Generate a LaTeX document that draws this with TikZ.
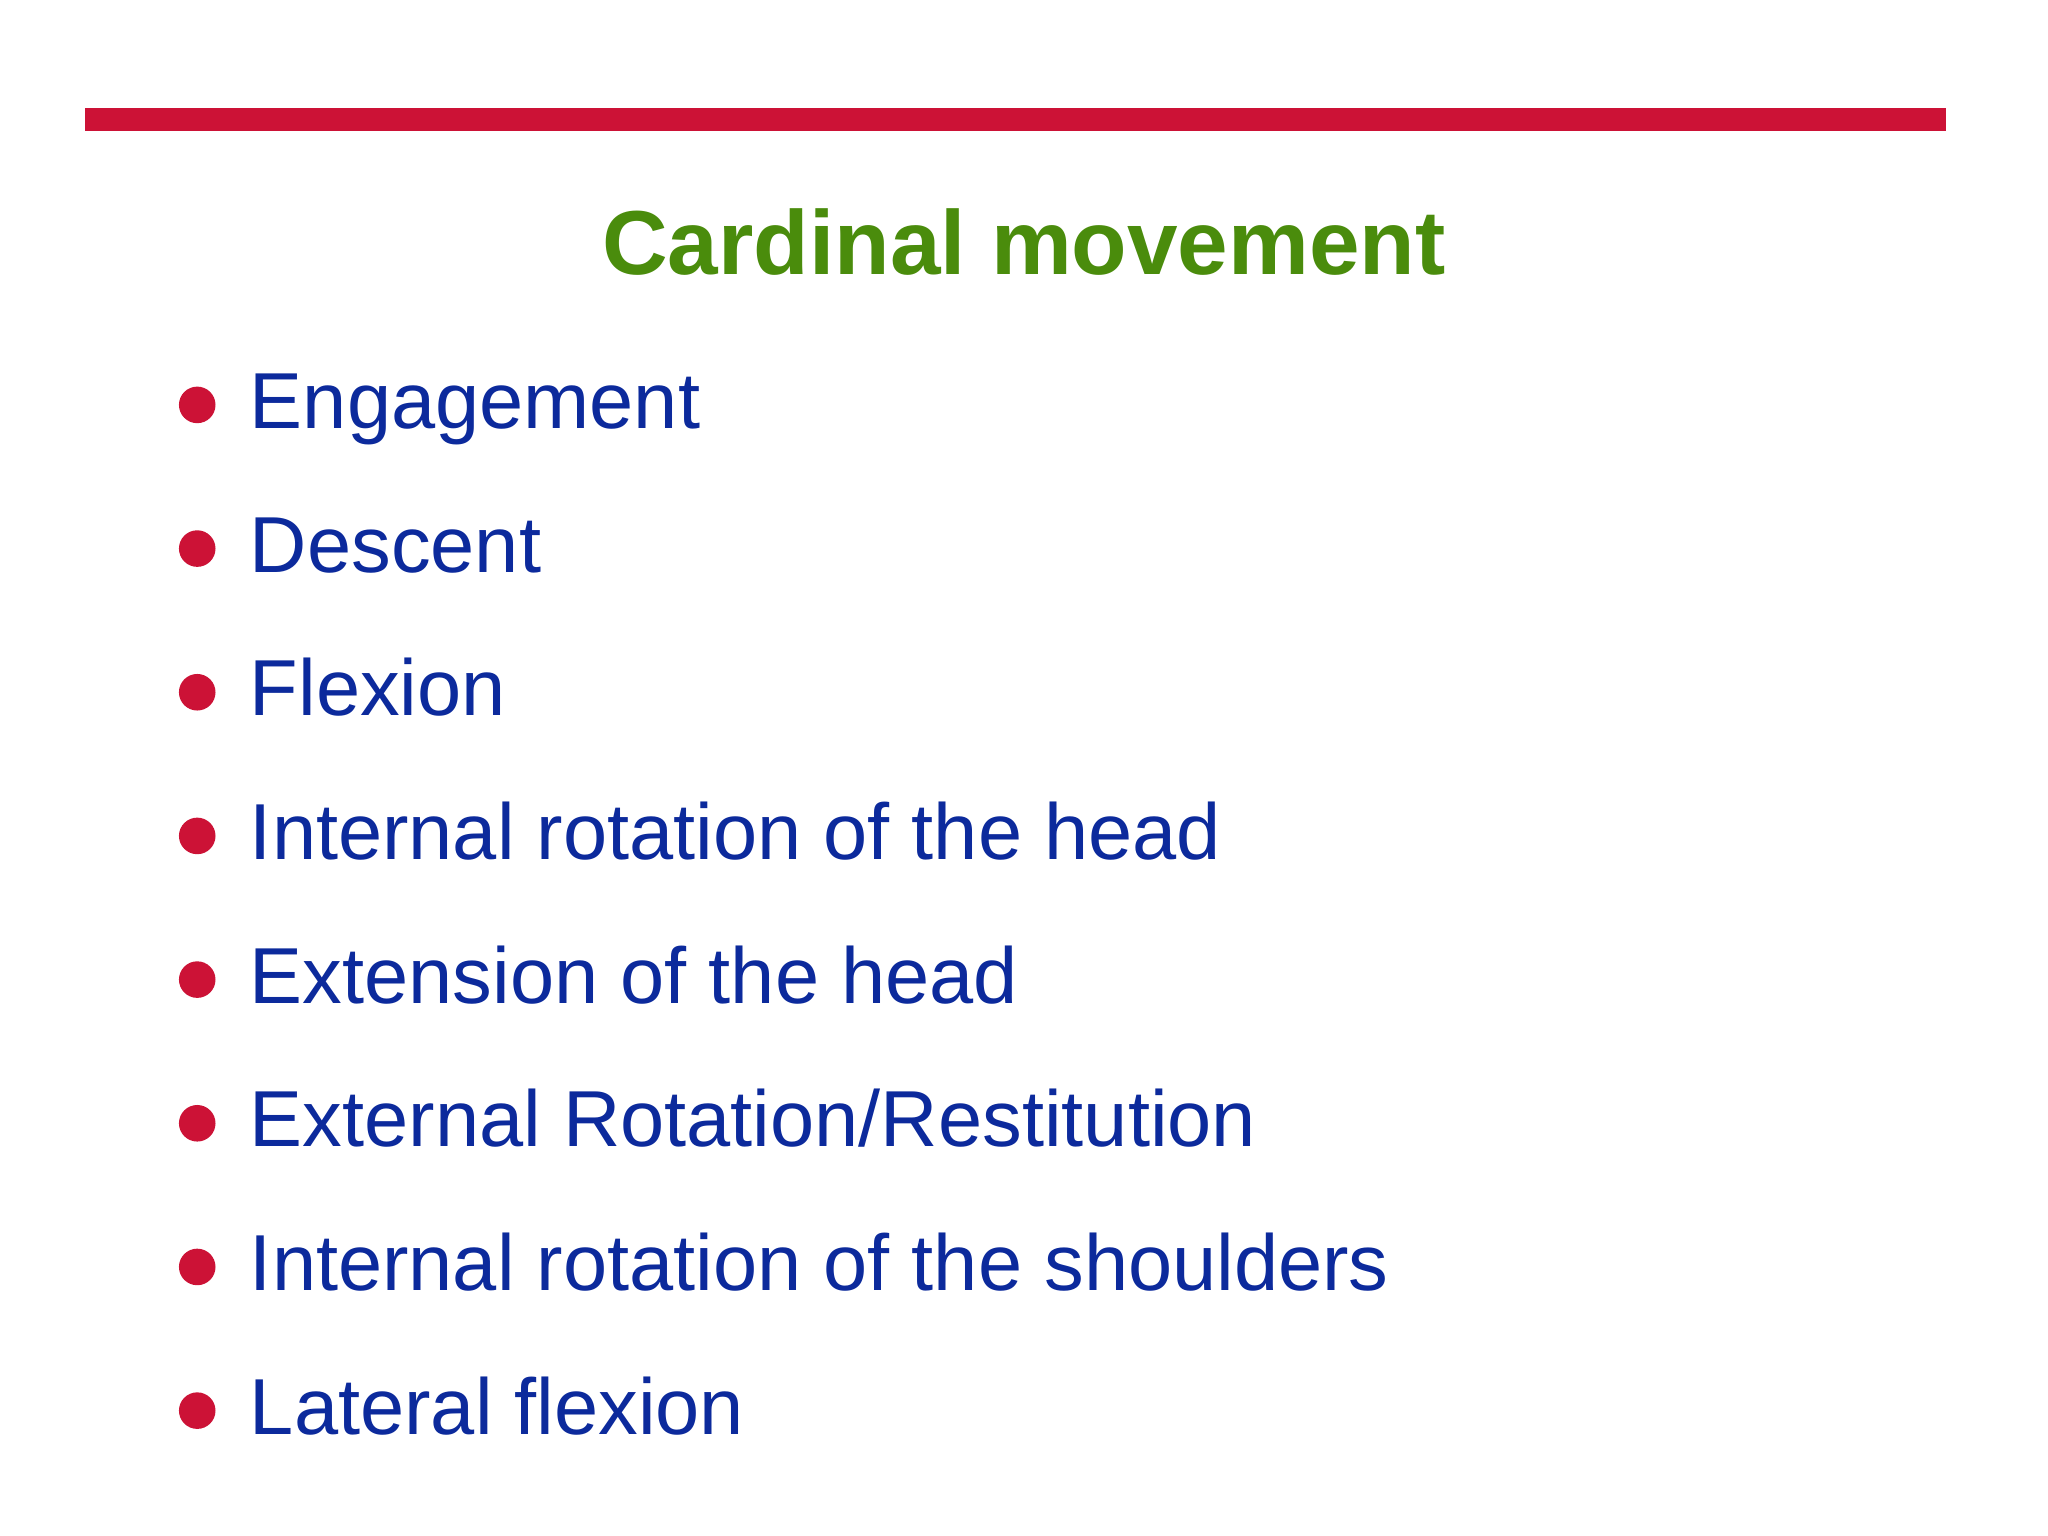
\documentclass[tikz,border=0pt]{standalone}
\usepackage{fontspec}
\setmainfont{Liberation Sans}
\definecolor{barred}{HTML}{CC1236}
\definecolor{titlegreen}{HTML}{4A8C0C}
\definecolor{itemblue}{HTML}{0C2A9C}
\begin{document}
\begin{tikzpicture}[x=0.02cm,y=-0.02cm,
  itemtext/.style={anchor=base west,inner sep=0,text=itemblue,font=\fontsize{34.6}{40}\selectfont},
  bulletdot/.style={circle,fill=barred,minimum size=0.56cm,inner sep=0}]
\useasboundingbox[fill=white] (0,0) rectangle (1568,1176);
\fill[barred] (65,83) rectangle (1490,100);
\node[anchor=base,inner sep=0,text=titlegreen,font=\fontsize{39.6}{46}\selectfont\bfseries] (title) at (784,210) {Cardinal movement};
\foreach \t [count=\i] in {Engagement,Descent,Flexion,Internal rotation of the head,Extension of the head,External Rotation/Restitution,Internal rotation of the shoulders,Lateral flexion}{
  \node[bulletdot] (b\i) at (151,{310+110*(\i-1)}) {};
  \node[itemtext] (t\i) at (191,{328+110*(\i-1)}) {\t};
}
\end{tikzpicture}
\end{document}
